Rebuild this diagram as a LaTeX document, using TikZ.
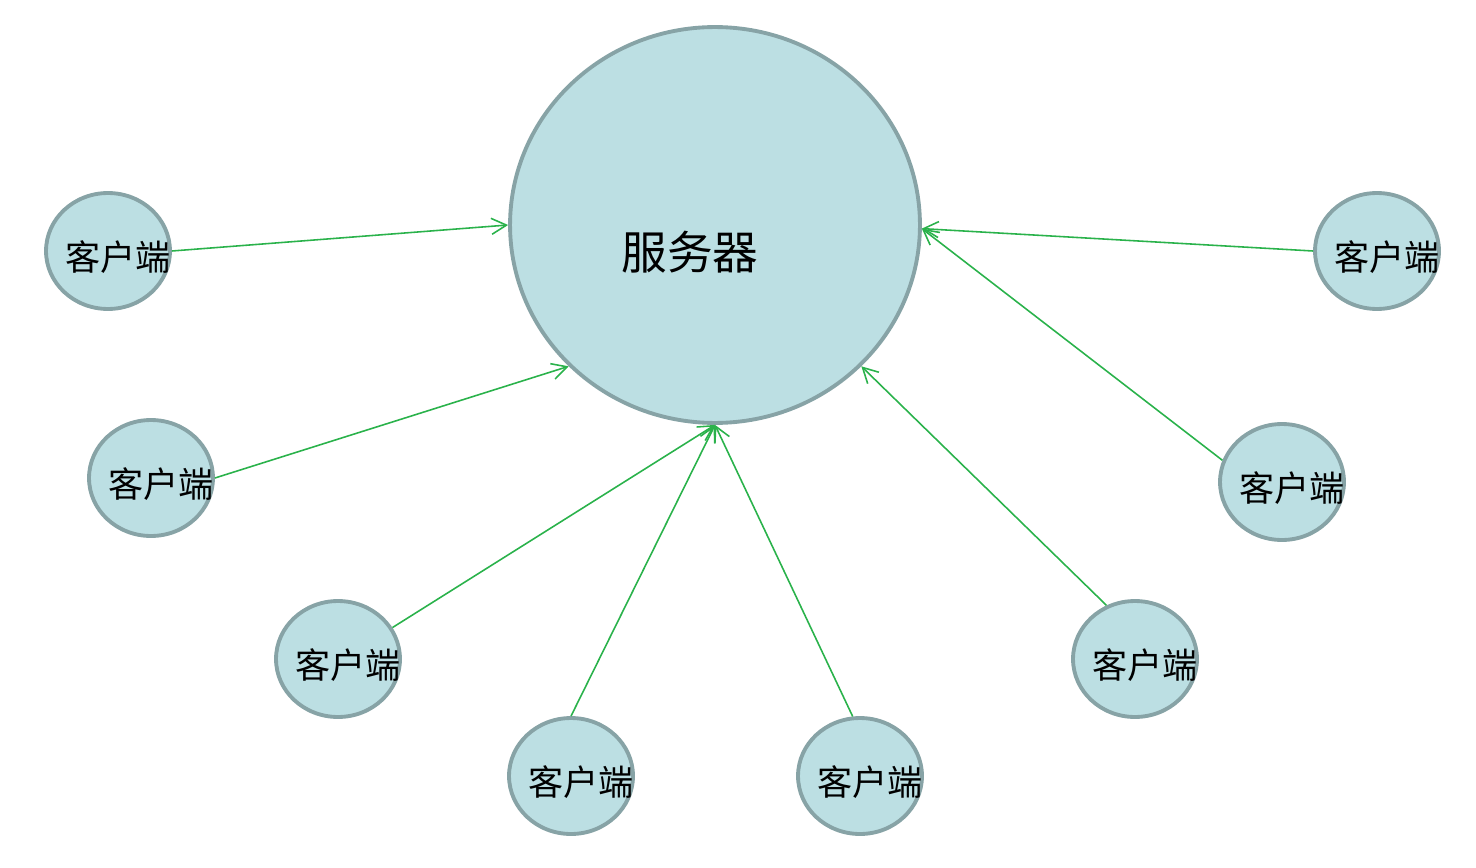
\documentclass[tikz,border=0pt]{standalone}
\usepackage{fontspec}
\newfontfamily\cjk{Noto Sans CJK SC}
\usetikzlibrary{shapes.geometric,arrows.meta}
\definecolor{nodefill}{HTML}{BCDFE3}
\definecolor{nodeedge}{HTML}{87A3A6}
\definecolor{linkgreen}{HTML}{2AB24B}
\begin{document}
\begin{tikzpicture}[x=0.02cm,y=-0.02cm,
  bubble/.style={ellipse,draw=nodeedge,fill=nodefill,line width=2.2pt,inner sep=0pt},
  client/.style={bubble,minimum width=2.48cm,minimum height=2.32cm,
    label={[font=\cjk\fontsize{20}{20}\selectfont,xshift=0.2cm,yshift=-0.12cm]center:客户端}},
  server/.style={bubble,minimum width=8.2cm,minimum height=7.92cm,
    label={[font=\cjk\fontsize{26}{26}\selectfont,xshift=-0.5cm,yshift=-0.54cm]center:服务器}},
  link/.style={draw=linkgreen,line width=0.9pt,-{Straight Barb[length=0.3cm,width=0.32cm,line width=0.9pt]}}]
\useasboundingbox (0,0) rectangle (1476,868);

\node[server] (srv) at (715,225) {};

\node[client] (c1) at (108,251) {};
\node[client] (c2) at (151,478) {};
\node[client] (c3) at (338,659) {};
\node[client] (c4) at (571,776) {};
\node[client] (c5) at (860,776) {};
\node[client] (c6) at (1135,659) {};
\node[client] (c7) at (1282,482) {};
\node[client] (c8) at (1377,251) {};

\draw[link] (c1.east) -- (srv.180);
\draw[link] (c2.east) -- (srv.224);
\draw[link] (c3.30) -- (srv.south);
\draw[link] (c4.north) -- (srv.south);
\draw[link] (c5.97) -- (srv.south);
\draw[link] (c6.118) -- (srv.316);
\draw[link] (c7.160) -- (srv.359);
\draw[link] (c8.west) -- (srv.359);
\end{tikzpicture}
\end{document}
